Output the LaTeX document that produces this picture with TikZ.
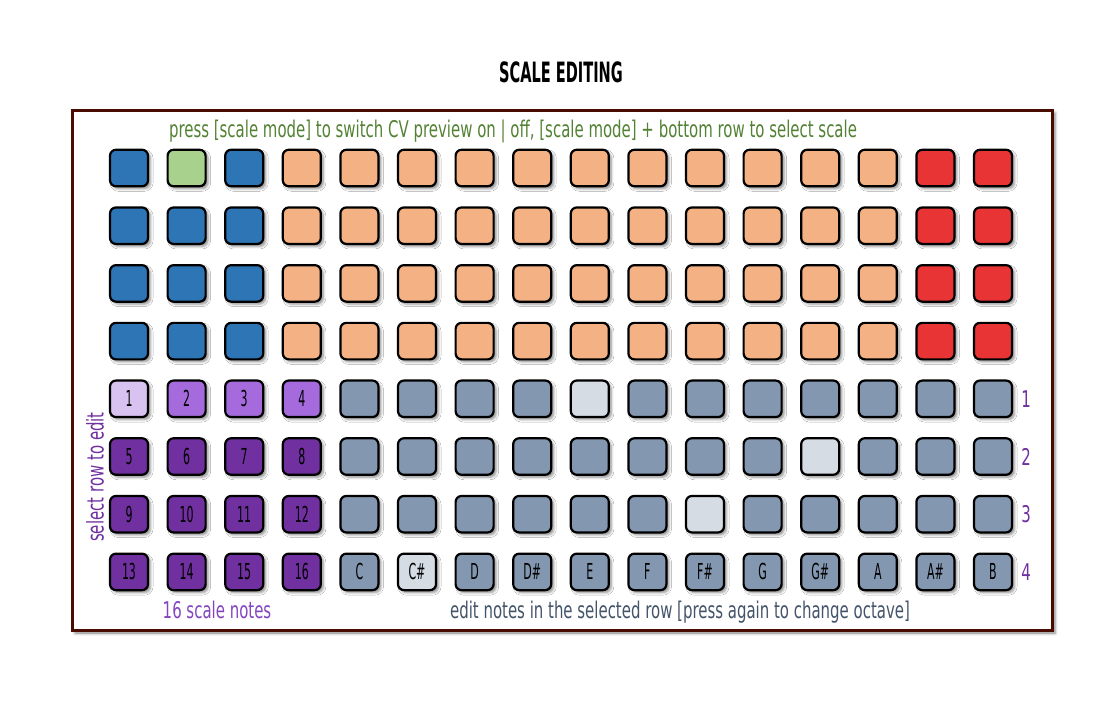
\documentclass[tikz,border=0pt]{standalone}
\usepackage{fontspec}
\usetikzlibrary{shadows.blur}
\newfontfamily\agency[FakeStretch=0.65]{DejaVu Sans}
\newfontfamily\padfont[FakeStretch=0.5]{DejaVu Sans}
\newfontfamily\titlefont[FakeStretch=0.52]{DejaVu Sans Bold}
\definecolor{cblue}{HTML}{2E75B6}
\definecolor{cgreen}{HTML}{A9D18E}
\definecolor{corange}{HTML}{F4B183}
\definecolor{cred}{HTML}{E83434}
\definecolor{clav}{HTML}{D8C2F0}
\definecolor{cmpur}{HTML}{A56BDD}
\definecolor{cdpur}{HTML}{7030A0}
\definecolor{cgray}{HTML}{8497B0}
\definecolor{clight}{HTML}{D6DCE4}
\definecolor{tgreen}{HTML}{548235}
\definecolor{tpur}{HTML}{7030A0}
\definecolor{tpur2}{HTML}{8445C0}
\definecolor{tslate}{HTML}{44546A}
\definecolor{cframe}{HTML}{4A0C00}
\begin{document}
\begin{tikzpicture}[x=1pt,y=-1pt,
  pad/.style={draw=black, line width=2.2pt, rounded corners=6pt,
    minimum width=38pt, minimum height=36.5pt, inner sep=0pt,
    blur shadow={shadow xshift=2.5pt, shadow yshift=-2.5pt, shadow blur radius=2.5pt, shadow opacity=45},
    font=\padfont\fontsize{22}{22}\selectfont},
  padtext/.style={inner sep=0pt, font=\padfont\fontsize{22}{22}\selectfont},
  lbl/.style={inner sep=0pt, font=\agency\fontsize{23}{23}\selectfont},
  frame/.style={draw=cframe, line width=3pt, fill=white, minimum width=980pt, minimum height=520pt,
    blur shadow={shadow xshift=3pt, shadow yshift=-3pt, shadow blur radius=3pt, shadow opacity=50}}
]
\useasboundingbox (0,0) rectangle (1104,720);
\node[frame] (frame) at (562,370) {};
\node[inner sep=0pt, font=\titlefont\fontsize{28}{28}\selectfont] (title) at (561,72) {SCALE EDITING};
\node[lbl, text=tgreen] (top) at (513,131) {press [scale mode] to switch CV preview on | off, [scale mode] + bottom row to select scale};
% top four rows
\foreach \r in {1,...,4}{
  \foreach \c in {1,...,16}{
    \pgfmathsetmacro{\px}{129+(\c-1)*57.6}
    \pgfmathsetmacro{\py}{168+(\r-1)*57.7}
    \ifnum\c<4 \def\col{cblue}\else\ifnum\c<15 \def\col{corange}\else\def\col{cred}\fi\fi
    \ifnum\r=1 \ifnum\c=2 \def\col{cgreen}\fi\fi
    \node[pad, fill=\col] (p-\r-\c) at (\px,\py) {};
  }
}
% lower four rows, gray part
\foreach \r/\lc in {5/9,6/13,7/11,8/6}{
  \foreach \c in {5,...,16}{
    \pgfmathsetmacro{\px}{129+(\c-1)*57.6}
    \pgfmathsetmacro{\py}{168+(\r-1)*57.7}
    \ifnum\c=\lc \def\col{clight}\else\def\col{cgray}\fi
    \node[pad, fill=\col] (p-\r-\c) at (\px,\py) {};
  }
}
% note labels on bottom row
\foreach \c/\t in {5/C,6/C\#,7/D,8/D\#,9/E,10/F,11/F\#,12/G,13/G\#,14/A,15/A\#,16/B}{
  \node[padtext] (n-\c) at (p-8-\c) {\t};
}
% purple pads
\foreach \r in {5,...,8}{
  \foreach \c in {1,...,4}{
    \pgfmathsetmacro{\px}{129+(\c-1)*57.6}
    \pgfmathsetmacro{\py}{168+(\r-1)*57.7}
    \pgfmathtruncatemacro{\n}{(\r-5)*4+\c}
    \ifnum\r=5 \ifnum\c=1 \def\col{clav}\else\def\col{cmpur}\fi\else\def\col{cdpur}\fi
    \node[pad, fill=\col] (p-\r-\c) at (\px,\py) {\n};
  }
}
% right row numbers
\foreach \r/\n in {5/1,6/2,7/3,8/4}{
  \node[lbl, text=tpur, anchor=west] (rn-\n) at ([xshift=8pt]p-\r-16.east) {\n};
}
\node[lbl, text=tpur, rotate=90] (sel) at (95,477) {select row to edit};
\node[lbl, text=tpur2] (sixteen) at (217,610) {16 scale notes};
\node[lbl, text=tslate] (edit) at (680,612) {edit notes in the selected row [press again to change octave]};
\end{tikzpicture}
\end{document}
